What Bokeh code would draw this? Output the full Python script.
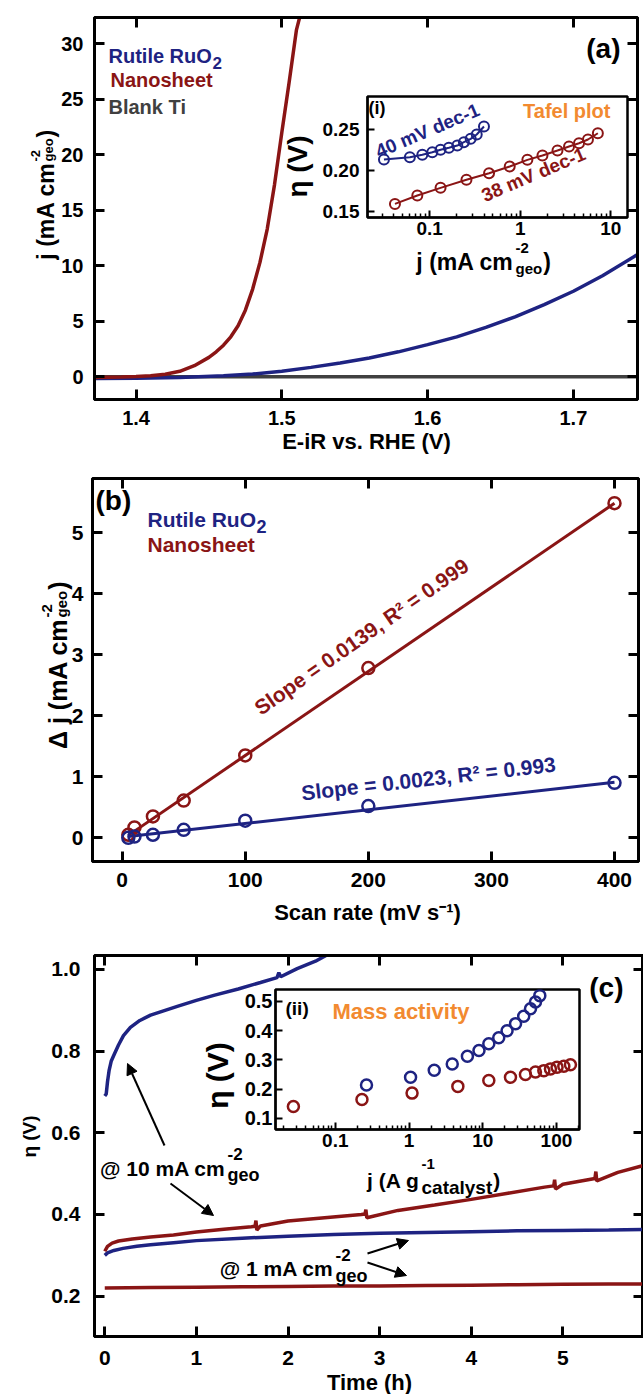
import math
from bokeh.plotting import figure
from bokeh.models import (Range1d, LinearAxis, FixedTicker, NumeralTickFormatter,
                          CustomJSTickFormatter, Label, Arrow, NormalHead)
from bokeh.layouts import column
from bokeh.embed import file_html
from bokeh.resources import INLINE

FONT = "Liberation Sans"
BLUE = "#1e2382"
RED = "#8a1515"
GRAY = "#404040"
ORANGE = "#f28a30"

# ---------------- data ----------------
# (a) polarisation curves
a_ns_E = [1.3715, 1.39, 1.40, 1.41, 1.42, 1.43, 1.44, 1.45, 1.455, 1.46, 1.465, 1.47, 1.475, 1.48,
          1.485, 1.49, 1.495, 1.50, 1.505, 1.51, 1.5135]
a_ns_j = [-0.05, -0.02, 0.02, 0.10, 0.24, 0.50, 1.00, 1.75, 2.25, 2.85, 3.6, 4.6, 6.0, 7.9,
          10.3, 13.3, 17.3, 22.0, 26.5, 31.2, 33.0]
a_ru_E = [1.3715, 1.40, 1.43, 1.46, 1.48, 1.50, 1.52, 1.54, 1.56, 1.58, 1.60, 1.62, 1.64, 1.66, 1.68, 1.70, 1.72, 1.744]
a_ru_j = [-0.15, -0.12, -0.05, 0.10, 0.25, 0.50, 0.85, 1.25, 1.70, 2.25, 2.90, 3.60, 4.45, 5.40, 6.50, 7.70, 9.10, 11.0]
a_ti_E = [1.3715, 1.744]
a_ti_j = [0.0, 0.0]
a_xticks = [1.4, 1.5, 1.6, 1.7]
a_yticks = [0, 5, 10, 15, 20, 25, 30]

# inset (i) Tafel plot
ti_ru_j = [0.0313, 0.0605, 0.083, 0.107, 0.132, 0.163, 0.202, 0.239, 0.284, 0.331, 0.398]
ti_ru_eta = [0.2135, 0.2164, 0.2193, 0.2225, 0.2255, 0.228, 0.2307, 0.2348, 0.2389, 0.2442, 0.254]
ti_ns_j = [0.0414, 0.0731, 0.132, 0.255, 0.453, 0.766, 1.2, 1.76, 2.58, 3.46, 4.46, 5.6, 7.2]
ti_ns_eta = [0.159, 0.1693, 0.1787, 0.1886, 0.1967, 0.2049, 0.2131, 0.2184, 0.2246, 0.2295, 0.2335, 0.2381, 0.2458]
ti_xticks = [0.1, 1, 10]
ti_xminor = [0.03, 0.04, 0.05, 0.06, 0.07, 0.08, 0.09, 0.2, 0.3, 0.4, 0.5, 0.6, 0.7, 0.8, 0.9,
             2, 3, 4, 5, 6, 7, 8, 9]
ti_yticks = [0.15, 0.20, 0.25]

# (b) double-layer capacitance
b_ru_rate = [5, 10, 25, 50, 100, 200, 400]
b_ru_dj = [0.0, 0.02, 0.05, 0.13, 0.28, 0.52, 0.90]
b_ns_rate = [5, 10, 25, 50, 100, 200, 400]
b_ns_dj = [0.05, 0.17, 0.35, 0.61, 1.35, 2.78, 5.48]
b_fit_rate = [5, 400]
b_ru_fit = [0.02, 0.91]
b_ns_fit = [0.04, 5.48]
b_xticks = [0, 100, 200, 300, 400]
b_yticks = [0, 1, 2, 3, 4, 5]

# (c) chronopotentiometry
c_ru10_t = [0.0, 0.016, 0.03, 0.047, 0.07, 0.105, 0.15, 0.204, 0.28, 0.383, 0.5, 0.65, 0.8, 1.0, 1.2,
            1.457, 1.7, 1.88, 1.9, 1.92, 2.1, 2.3, 2.43]
c_ru10_eta = [0.69, 0.695, 0.725, 0.752, 0.775, 0.793, 0.815, 0.838, 0.858, 0.875, 0.888, 0.899, 0.910,
              0.924, 0.937, 0.952, 0.968, 0.980, 0.992, 0.982, 1.002, 1.020, 1.036]
c_ns10_t = [0.0, 0.03, 0.08, 0.15, 0.3, 0.5, 0.75, 1.0, 1.3, 1.6, 1.64, 1.65, 1.66, 1.7, 2.0, 2.4, 2.8,
            2.84, 2.85, 2.86, 3.2, 3.6, 4.0, 4.4, 4.8, 4.9, 4.91, 4.92, 5.0, 5.35, 5.36, 5.37, 5.6, 5.88]
c_ns10_eta = [0.31, 0.322, 0.33, 0.335, 0.34, 0.345, 0.35, 0.357, 0.364, 0.370, 0.371, 0.385, 0.362,
              0.372, 0.384, 0.392, 0.400, 0.401, 0.412, 0.392, 0.410, 0.423, 0.437, 0.452, 0.467,
              0.470, 0.485, 0.462, 0.474, 0.488, 0.505, 0.482, 0.503, 0.52]
c_ru1_t = [0.0, 0.03, 0.1, 0.2, 0.35, 0.5, 0.75, 1.0, 1.5, 2.0, 2.5, 3.0, 3.5, 4.0, 4.5, 5.0, 5.5, 5.88]
c_ru1_eta = [0.300, 0.306, 0.312, 0.317, 0.322, 0.326, 0.331, 0.336, 0.342, 0.347, 0.351, 0.354,
             0.356, 0.358, 0.360, 0.361, 0.362, 0.363]
c_ns1_t = [0.0, 0.5, 1.0, 1.5, 2.0, 2.5, 3.0, 3.5, 4.0, 4.5, 5.0, 5.5, 5.88]
c_ns1_eta = [0.220, 0.221, 0.222, 0.223, 0.224, 0.225, 0.225, 0.226, 0.227, 0.228, 0.229, 0.230, 0.230]
c_xticks = [0, 1, 2, 3, 4, 5]
c_yticks = [0.2, 0.4, 0.6, 0.8, 1.0]

# inset (ii) mass activity
ii_ru_j = [0.265, 1.05, 2.2, 3.86, 6.2, 8.9, 12.1, 16.5, 21.4, 27.9, 36, 44.5, 52, 59.5]
ii_ru_eta = [0.214, 0.24, 0.264, 0.286, 0.312, 0.332, 0.355, 0.376, 0.40, 0.424, 0.449, 0.475, 0.498, 0.52]
ii_ns_j = [0.027, 0.23, 1.1, 4.6, 12.1, 23.8, 38, 52, 67.5, 83, 102, 126, 155]
ii_ns_eta = [0.14, 0.164, 0.186, 0.209, 0.229, 0.24, 0.25, 0.258, 0.263, 0.269, 0.275, 0.278, 0.283]
ii_xticks = [0.1, 1, 10, 100]
ii_xminor = [0.02, 0.03, 0.04, 0.05, 0.06, 0.07, 0.08, 0.09, 0.2, 0.3, 0.4, 0.5, 0.6, 0.7, 0.8, 0.9,
             2, 3, 4, 5, 6, 7, 8, 9, 20, 30, 40, 50, 60, 70, 80, 90, 200]
ii_yticks = [0.1, 0.2, 0.3, 0.4, 0.5]

# ---------------- geometry (page pixels) ----------------
PAGE_W, PAGE_H = 643, 1394
GA = dict(left=0, top=0, w=643, h=460, L=94, R=637, T=17, B=399,
          xr=(1.3715, 1.744), yr=(-2.04, 32.34), xlog=False)
GIA = dict(left=275, top=90, w=368, h=182, L=367, R=627, T=96, B=217,
           xr=(0.0206, 15.3), yr=(0.1423, 0.2909), xlog=True)
GB = dict(left=0, top=460, w=643, h=475, L=92, R=638, T=478, B=861,
          xr=(-24.1, 419.5), yr=(-0.388, 5.885), xlog=False)
GC = dict(left=0, top=935, w=643, h=459, L=94, R=643, T=955, B=1336,
          xr=(-0.112, 5.88), yr=(0.1013, 1.034), xlog=False)
GIC = dict(left=195, top=983, w=400, h=217, L=275, R=579, T=989, B=1129,
           xr=(0.01544, 205.7), yr=(0.0613, 0.541), xlog=True)


def make_fig(g, inset=False):
    p = figure(width=g["w"], height=g["h"],
               x_range=Range1d(*g["xr"]), y_range=Range1d(*g["yr"]),
               x_axis_type="log" if g["xlog"] else "linear",
               output_backend="svg", toolbar_location=None,
               min_border_left=g["L"] - g["left"], min_border_right=g["left"] + g["w"] - g["R"],
               min_border_top=g["T"] - g["top"], min_border_bottom=g["top"] + g["h"] - g["B"])
    p.frame_align = False
    p.grid.visible = False
    p.outline_line_color = "black"
    p.outline_line_width = 2.5 if inset else 3
    if inset:
        p.border_fill_color = None
        p.background_fill_color = "white"
    return p


def style_axis(ax, ticks, fmt=None, size=20, tick_in=10, lw=3, standoff=8, minor=None, show=True):
    ax.ticker = FixedTicker(ticks=ticks, minor_ticks=minor or [])
    if fmt is not None:
        ax.formatter = fmt
    ax.axis_line_width = lw
    ax.axis_line_color = "black"
    ax.major_tick_line_width = lw
    ax.major_tick_line_color = "black"
    ax.major_tick_in = tick_in
    ax.major_tick_out = 0
    ax.minor_tick_in = 4 if minor else 0
    ax.minor_tick_out = 0
    ax.minor_tick_line_width = 1.5
    ax.minor_tick_line_color = "black"
    ax.axis_label = None
    if show:
        ax.major_label_text_font = FONT
        ax.major_label_text_font_style = "bold"
        ax.major_label_text_font_size = f"{size}px"
        ax.major_label_text_color = "black"
        ax.major_label_standoff = standoff
    else:
        ax.major_label_text_color = None
        ax.major_label_text_font_size = "0px"
        ax.major_label_standoff = 0


def mirror(p, xticks, yticks):
    top = LinearAxis()
    p.add_layout(top, "above")
    style_axis(top, xticks, show=False)
    right = LinearAxis()
    p.add_layout(right, "right")
    style_axis(right, yticks, show=False)


# ---------------- panel (a) ----------------
pa = make_fig(GA)
pa.line(a_ti_E, a_ti_j, line_color=GRAY, line_width=3.5)
pa.line(a_ru_E, a_ru_j, line_color=BLUE, line_width=3.5)
pa.line(a_ns_E, a_ns_j, line_color=RED, line_width=3.5)
style_axis(pa.xaxis[0], a_xticks, NumeralTickFormatter(format="0.0"), size=20, standoff=11)
style_axis(pa.yaxis[0], a_yticks, NumeralTickFormatter(format="0"), size=20, standoff=11)
mirror(pa, a_xticks, a_yticks)

# inset (i)
ia = make_fig(GIA, inset=True)
ia.line(ti_ru_j, ti_ru_eta, line_color=BLUE, line_width=2)
ia.scatter(ti_ru_j, ti_ru_eta, marker="circle", size=10, fill_color=None, line_color=BLUE, line_width=2)
ia.line(ti_ns_j, ti_ns_eta, line_color=RED, line_width=2)
ia.scatter(ti_ns_j, ti_ns_eta, marker="circle", size=10, fill_color=None, line_color=RED, line_width=2)
style_axis(ia.xaxis[0], ti_xticks, CustomJSTickFormatter(code="return tick.toString()"),
           size=19, tick_in=7, lw=2, standoff=4, minor=ti_xminor)
style_axis(ia.yaxis[0], ti_yticks, NumeralTickFormatter(format="0.00"), size=19, tick_in=7, lw=2, standoff=8)

# ---------------- panel (b) ----------------
pb = make_fig(GB)
pb.line(b_fit_rate, b_ns_fit, line_color=RED, line_width=3)
pb.line(b_fit_rate, b_ru_fit, line_color=BLUE, line_width=3)
pb.scatter(b_ns_rate, b_ns_dj, marker="circle", size=12, fill_color=None, line_color=RED, line_width=2.5)
pb.scatter(b_ru_rate, b_ru_dj, marker="circle", size=12, fill_color=None, line_color=BLUE, line_width=2.5)
style_axis(pb.xaxis[0], b_xticks, NumeralTickFormatter(format="0"), size=21, standoff=11)
style_axis(pb.yaxis[0], b_yticks, NumeralTickFormatter(format="0"), size=21, standoff=9)
mirror(pb, b_xticks, b_yticks)

# ---------------- panel (c) ----------------
pc = make_fig(GC)
pc.line(c_ns1_t, c_ns1_eta, line_color=RED, line_width=3.5)
pc.line(c_ru1_t, c_ru1_eta, line_color=BLUE, line_width=3.5)
pc.line(c_ns10_t, c_ns10_eta, line_color=RED, line_width=3.5)
pc.line(c_ru10_t, c_ru10_eta, line_color=BLUE, line_width=3.5)
style_axis(pc.xaxis[0], c_xticks, NumeralTickFormatter(format="0"), size=21, standoff=14)
style_axis(pc.yaxis[0], c_yticks, NumeralTickFormatter(format="0.0"), size=21, standoff=14)
mirror(pc, c_xticks, c_yticks)

# inset (ii)
ic = make_fig(GIC, inset=True)
ic.scatter(ii_ru_j, ii_ru_eta, marker="circle", size=11, fill_color=None, line_color=BLUE, line_width=2.5)
ic.scatter(ii_ns_j, ii_ns_eta, marker="circle", size=11, fill_color=None, line_color=RED, line_width=2.5)
style_axis(ic.xaxis[0], ii_xticks, CustomJSTickFormatter(code="return tick.toString()"),
           size=19, tick_in=7, lw=2, standoff=4, minor=ii_xminor)
style_axis(ic.yaxis[0], ii_yticks, NumeralTickFormatter(format="0.0"), size=20, tick_in=7, lw=2, standoff=3)

# ---------------- text overlay (page-pixel coordinates, y downward) ----------------
ov = figure(width=PAGE_W, height=PAGE_H, x_range=Range1d(0, PAGE_W), y_range=Range1d(PAGE_H, 0),
            output_backend="svg", toolbar_location=None, x_axis_location=None, y_axis_location=None,
            min_border=0, min_border_left=0, min_border_right=0, min_border_top=0, min_border_bottom=0)
ov.frame_align = False
ov.grid.visible = False
ov.outline_line_color = None
ov.background_fill_color = None
ov.border_fill_color = None


def text(px, py, s, size, color="black", align="left", baseline="middle", angle=0.0):
    ov.add_layout(Label(x=px, y=py, text=s, text_font=FONT, text_font_size=f"{size}px",
                        text_font_style="bold", text_color=color, text_align=align,
                        text_baseline=baseline, angle=angle))


def vlabel(bx, J, main, msize, sup, sub, ssize, sub_em, sup_dx=10, sub_dx=3, tail=")"):
    r = math.pi / 2
    text(bx, J, main, msize, align="right", baseline="alphabetic", angle=r)
    text(bx - sup_dx, J - 1, sup, ssize, align="left", baseline="alphabetic", angle=r)
    text(bx + sub_dx, J - 1, sub, ssize, align="left", baseline="alphabetic", angle=r)
    text(bx, J - 2 - sub_em * ssize, tail, msize, align="left", baseline="alphabetic", angle=r)


def hlabel(J, by, main, msize, sup, sup_size, sup_by, sub, sub_size, sub_by, sub_em, tail=None):
    text(J, by, main, msize, align="right", baseline="alphabetic")
    text(J + 2, sup_by, sup, sup_size, align="left", baseline="alphabetic")
    text(J + 2, sub_by, sub, sub_size, align="left", baseline="alphabetic")
    if tail:
        text(J + 3 + sub_em * sub_size, by, tail, msize, align="left", baseline="alphabetic")


def arrow(x0, y0, x1, y1):
    ov.add_layout(Arrow(x_start=x0, y_start=y0, x_end=x1, y_end=y1, line_width=2, line_color="black",
                        end=NormalHead(size=11, fill_color="black", line_color="black")))


# panel (a) texts
text(108, 55, "Rutile RuO", 20, BLUE, baseline="alphabetic")
text(212, 62, "2", 17, BLUE, baseline="alphabetic")
text(110, 79, "Nanosheet", 20, RED)
text(108, 106, "Blank Ti", 20, GRAY)
text(620, 48, "(a)", 28, align="right")
text(366, 441, "E-iR vs. RHE (V)", 22, align="center")
vlabel(45, 162, "j (mA cm", 23, "-2", "geo", 13, 1.778)

# inset (i) texts
text(368, 107, "(i)", 18)
text(610, 110, "Tafel plot", 20, ORANGE, align="right")
text(427, 130, "40 mV dec-1", 19, BLUE, align="center", angle=math.radians(23))
text(533, 174, "38 mV dec-1", 19, RED, align="center", angle=math.radians(23))
text(297, 166, "\u03b7 (V)", 28, align="center", angle=math.pi / 2)
hlabel(513, 261, "j (mA cm", 23, "-2", 15, 247, "geo", 15, 268, 1.778, tail=")")

# panel (b) texts
text(95, 500, "(b)", 28)
text(147, 519, "Rutile RuO", 21, BLUE, baseline="alphabetic")
text(256, 526, "2", 18, BLUE, baseline="alphabetic")
text(147, 544, "Nanosheet", 21, RED)
text(361, 636, "Slope = 0.0139, R\u00b2 = 0.999", 21, RED, align="center", angle=math.radians(35))
text(428, 778, "Slope = 0.0023, R\u00b2 = 0.993", 21, BLUE, align="center", angle=math.radians(6.5))
text(367, 912, "Scan rate (mV s\u207b\u00b9)", 22, align="center")
vlabel(57, 618, "\u0394 j (mA cm", 25, "-2", "geo", 15, 1.778, sup_dx=11, sub_dx=4)

# panel (c) texts
text(623, 987, "(c)", 28, align="right")
text(369, 1382, "Time (h)", 22, align="center")
text(29, 1136, "\u03b7 (V)", 19, align="center", angle=math.pi / 2)
hlabel(225, 1168, "@ 10 mA cm", 21, "-2", 17, 1153, "geo", 18, 1174, 1.778)
hlabel(333, 1268, "@ 1 mA cm", 21, "-2", 17, 1254, "geo", 18, 1275, 1.778)
arrow(164, 1145, 127, 1063)
arrow(170, 1183, 213, 1215)
arrow(367, 1253, 408, 1240)
arrow(367, 1262, 406, 1275)

# inset (ii) texts
text(285, 1008, "(ii)", 19)
text(332, 1011, "Mass activity", 22, ORANGE)
text(217, 1075, "\u03b7 (V)", 30, align="center", angle=math.pi / 2)
hlabel(419, 1180, "j (A g", 21, "-1", 15, 1163, "catalyst", 19, 1187, 3.724, tail=")")

# ---------------- layout: insets and text overlay stacked with negative margins ----------------
ia.margin = (GIA["top"] - (GA["top"] + GA["h"]), 0, (GA["top"] + GA["h"]) - (GIA["top"] + GIA["h"]), GIA["left"])
ic.margin = (GIC["top"] - (GC["top"] + GC["h"]), 0, (GC["top"] + GC["h"]) - (GIC["top"] + GIC["h"]), GIC["left"])
ov.margin = (-PAGE_H, 0, 0, 0)

layout = column(pa, ia, pb, pc, ic, ov, spacing=0)
open("out.html", "w").write(file_html(layout, INLINE))
